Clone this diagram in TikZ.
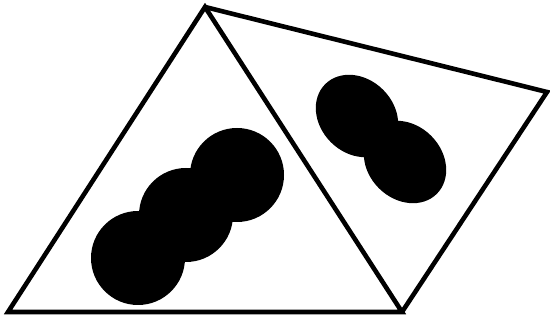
\documentclass[tikz,border=0pt]{standalone}
\usepackage{tikz}
\usetikzlibrary{calc}
\tikzset{
  edge/.style = {draw=black, line width=4.6pt, line join=miter},
  blob/.style = {fill=black, draw=none},
}
\begin{document}
\begin{tikzpicture}[x=1pt,y=1pt]
\useasboundingbox (0,0) rectangle (550,321);
% corners
\coordinate (apex) at (205,314);
\coordinate (botl) at (8,9);
\coordinate (botr) at (402,9);
\coordinate (farr) at (547,229);
% left cluster
\fill[blob] (237,146) circle (47);
\fill[blob] (186,106) circle (47);
\fill[blob] (138,63) circle (47);
% right pair
\fill[blob, rotate around={-45:(357,205)}] (357,205) ellipse (45 and 37);
\fill[blob, rotate around={-45:(405,159)}] (405,159) ellipse (45 and 37);
% triangles
\draw[edge] (apex) -- (botl) -- (botr) -- cycle;
\draw[edge] (apex) -- (farr) -- (botr);
\end{tikzpicture}
\end{document}
